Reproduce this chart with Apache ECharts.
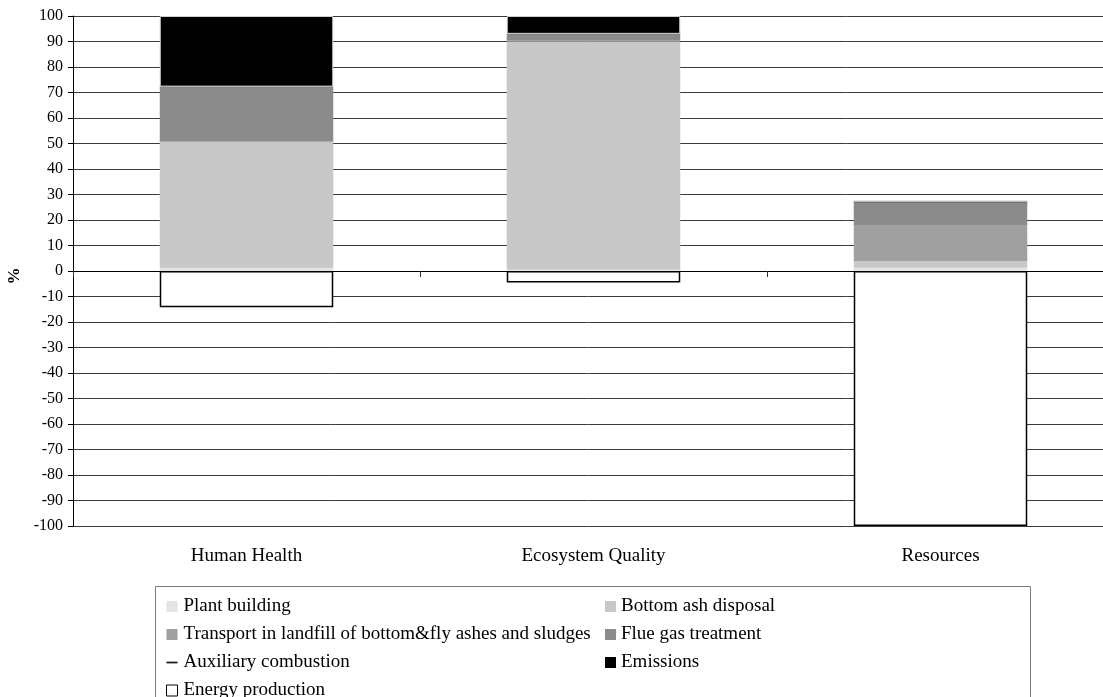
<!DOCTYPE html>
<html>
<head>
<meta charset="utf-8">
<script src="https://cdn.jsdelivr.net/npm/echarts@6/dist/echarts.min.js"></script>
<style>
html,body{margin:0;padding:0;background:#fff;}
#chart{width:1103px;height:697px;}
</style>
</head>
<body>
<div id="chart"></div>
<script>
const categories = ['Human Health', 'Ecosystem Quality', 'Resources'];
const plantBuilding = [1.2, 0.5, 1.3];
const bottomAshDisposal = [49.2, 89.5, 2.6];
const transportLandfill = [0.5, 0.3, 13.8];
const flueGasTreatment = [21.2, 2.5, 9.2];
const auxiliaryCombustion = [0.2, 0.2, 0.5];
const emissions = [27.7, 7.0, 0];
const energyProduction = [-14.2, -4.5, -100];
const yTicks = {min: -100, max: 100, interval: 10};

const FONT = '"Liberation Serif", "Times New Roman", serif';

const chart = echarts.init(document.getElementById('chart'), null, {renderer: 'canvas'});

function barSeries(name, data, color, extra) {
  return Object.assign({
    name: name,
    type: 'bar',
    stack: 'total',
    barWidth: '50%',
    xAxisIndex: 0,
    data: data,
    itemStyle: {color: color},
    emphasis: {disabled: true}
  }, extra || {});
}

const option = {
  backgroundColor: '#ffffff',
  animation: false,
  textStyle: {fontFamily: FONT},
  grid: {left: 73, top: 16, width: 1041, height: 510, containLabel: false, outerBoundsMode: 'none'},
  xAxis: [
    {
      type: 'category',
      data: categories,
      position: 'bottom',
      axisLine: {show: false, onZero: false},
      axisTick: {show: false},
      splitLine: {show: false},
      axisLabel: {color: '#000', fontFamily: FONT, fontSize: 19, margin: 21}
    },
    {
      type: 'category',
      data: categories,
      position: 'bottom',
      axisLine: {show: true, onZero: true, onZeroAxisIndex: 0, lineStyle: {color: '#000', width: 1}},
      axisTick: {show: true, length: 6, lineStyle: {color: '#333'}},
      axisLabel: {show: false},
      splitLine: {show: false}
    }
  ],
  yAxis: {
    type: 'value',
    min: yTicks.min,
    max: yTicks.max,
    interval: yTicks.interval,
    name: '%',
    nameLocation: 'middle',
    nameRotate: 90,
    nameGap: 49,
    nameTextStyle: {color: '#000', fontFamily: FONT, fontSize: 17, fontWeight: 'bold', padding: [0, 10, 0, 0]},
    axisLine: {show: true, lineStyle: {color: '#000', width: 1}},
    axisTick: {show: true, length: 5, lineStyle: {color: '#000'}},
    axisLabel: {color: '#000', fontFamily: FONT, fontSize: 16, margin: 10},
    splitLine: {show: true, lineStyle: {color: '#3a3a3a', width: 1}}
  },
  legend: [
    {
      orient: 'vertical',
      left: 161,
      top: 592,
      height: 140,
      itemWidth: 11,
      itemHeight: 11,
      itemGap: 9,
      symbolKeepAspect: true,
      textStyle: {color: '#000', fontFamily: FONT, fontSize: 19, lineHeight: 19, padding: [0, 0, 0, 1]},
      data: [
        {name: 'Plant building', icon: 'rect'},
        {name: 'Transport in landfill of bottom&fly ashes and sludges', icon: 'rect'},
        {name: 'Auxiliary combustion', icon: 'path://M0,0 L10,0 L10,1.6 L0,1.6 Z'},
        {name: 'Energy production', icon: 'rect', itemStyle: {borderWidth: 1}}
      ],
      selectedMode: false
    },
    {
      orient: 'vertical',
      left: 600,
      top: 592,
      height: 140,
      itemWidth: 11,
      itemHeight: 11,
      itemGap: 9,
      textStyle: {color: '#000', fontFamily: FONT, fontSize: 19, lineHeight: 19, padding: [0, 0, 0, 0]},
      data: [
        {name: 'Bottom ash disposal', icon: 'rect'},
        {name: 'Flue gas treatment', icon: 'rect'},
        {name: 'Emissions', icon: 'rect', itemStyle: {borderWidth: 0}}
      ],
      selectedMode: false
    }
  ],
  graphic: [
    {
      type: 'rect',
      shape: {x: 155.5, y: 586.5, width: 875, height: 130},
      style: {fill: 'none', stroke: '#7a7a7a', lineWidth: 1},
      silent: true,
      z: 10
    }
  ],
  series: [
    barSeries('Plant building', plantBuilding, '#e4e4e4'),
    barSeries('Bottom ash disposal', bottomAshDisposal, '#c8c8c8'),
    barSeries('Transport in landfill of bottom&fly ashes and sludges', transportLandfill, '#a0a0a0'),
    barSeries('Flue gas treatment', flueGasTreatment, '#8b8b8b'),
    barSeries('Auxiliary combustion', auxiliaryCombustion, '#1a1a1a'),
    barSeries('Emissions', emissions, '#000000', {itemStyle: {color: '#000000', borderColor: '#d0d0d0', borderWidth: 1}}),
    barSeries('Energy production', energyProduction, '#ffffff', {itemStyle: {color: '#ffffff', borderColor: '#000000', borderWidth: 1.5}})
  ]
};

chart.setOption(option);
</script>
</body>
</html>
